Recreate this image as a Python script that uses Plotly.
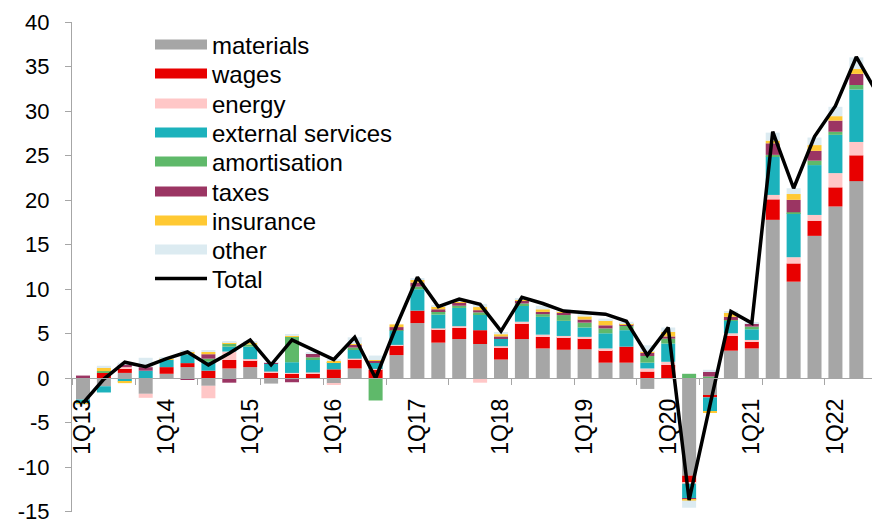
import plotly.graph_objects as go

# ---------------- data ----------------
quarters = ["1Q13", "2Q13", "3Q13", "4Q13", "1Q14", "2Q14", "3Q14", "4Q14",
            "1Q15", "2Q15", "3Q15", "4Q15", "1Q16", "2Q16", "3Q16", "4Q16",
            "1Q17", "2Q17", "3Q17", "4Q17", "1Q18", "2Q18", "3Q18", "4Q18",
            "1Q19", "2Q19", "3Q19", "4Q19", "1Q20", "2Q20", "3Q20", "4Q20",
            "1Q21", "2Q21", "3Q21", "4Q21", "1Q22", "2Q22", "3Q22"]
tick_labels = ["1Q13", "1Q14", "1Q15", "1Q16", "1Q17", "1Q18", "1Q19", "1Q20", "1Q21", "1Q22"]
y_ticks = [-15, -10, -5, 0, 5, 10, 15, 20, 25, 30, 35, 40]

materials = [-2.4, -0.9, 0.6, -1.75, 0.5, 1.25, -0.85, 1.1, 1.25, -0.6, -0.1, 0.0, -0.6, 1.1, 0.0, 2.6,
             6.2, 4.0, 4.4, 3.85, 2.1, 4.4, 3.35, 3.2, 3.25, 1.75, 1.75, -1.2, 0.0, -10.95, -1.95, 3.1,
             3.35, 17.8, 10.85, 16.0, 19.3, 22.15, None]
wages = [0.0, 0.6, 0.5, 0.0, 0.75, 0.45, 0.85, 0.95, 0.75, 0.65, 0.55, 0.5, 1.0, 1.0, 1.0, 1.1,
         1.4, 1.5, 1.25, 1.55, 1.3, 1.75, 1.3, 1.4, 1.2, 1.4, 1.8, 0.75, 1.5, -0.8, -0.2, 1.65,
         0.75, 2.3, 2.05, 1.7, 2.15, 2.9, None]
energy = [0.0, 0.0, 0.15, -0.45, 0.0, 0.0, -1.4, 0.95, 0.15, 0.1, 0.05, 0.15, -0.05, 0.1, 0.05, 0.05,
          0.0, 0.1, 0.2, -0.5, 0.2, 0.2, 0.25, 0.15, 0.2, 0.2, 0.0, 0.35, 0.35, -0.1, 0.0, 0.3,
          0.2, 0.5, 0.7, 0.65, 1.6, 1.5, None]
external_services = [-0.4, -0.7, -0.4, 0.85, 0.8, 1.0, 1.0, 0.55, 1.4, 0.9, 1.2, 1.4, 0.75, 1.05, 0.7, 1.6,
                     2.4, 1.55, 2.05, 1.8, 0.85, 1.85, 2.0, 1.7, 1.05, 1.7, 1.85, 0.65, 2.05, -1.65, -1.6, 1.4,
                     1.2, 4.3, 4.95, 5.6, 4.3, 5.9, None]
amortisation = [0.1, 0.2, 0.0, 0.0, 0.0, 0.0, 0.35, 0.35, 0.25, 0.0, 2.9, 0.3, 0.05, 0.2, -2.5, 0.05,
                0.3, 0.4, 0.25, 0.2, 0.05, 0.2, 0.3, 0.65, 0.55, 0.55, 0.5, 0.75, 0.55, 0.5, 0.2, 0.1,
                0.3, 0.2, 0.1, 0.5, 0.35, 0.5, None]
taxes = [0.2, 0.0, 0.3, 0.4, -0.05, -0.2, 0.5, -0.5, 0.0, 0.1, -0.35, 0.45, 0.0, 0.3, 0.2, 0.35,
         0.45, 0.2, 0.35, 0.25, 0.2, 0.3, 0.25, 0.25, 0.35, 0.35, 0.1, 0.35, 0.25, -0.1, 0.5, 0.35,
         0.35, 1.3, 1.4, 1.1, 1.25, 1.25, None]
insurance = [-0.1, 0.4, -0.15, 0.0, 0.2, 0.3, 0.25, 0.1, 0.25, 0.0, 0.15, 0.0, 0.15, 0.1, 0.1, 0.3,
             0.3, 0.35, 0.1, 0.35, 0.25, 0.2, 0.3, 0.1, 0.35, 0.55, 0.15, 0.1, 0.5, -0.15, -0.1, 0.45,
             0.0, 0.3, 0.65, 0.65, 0.5, 0.55, None]
other = [-0.1, 0.2, 0.2, 1.05, 0.05, 0.15, 0.15, 0.1, 0.1, 0.05, 0.05, 0.1, 0.2, 0.75, 0.5, 0.0,
         0.2, 0.1, 0.2, 0.35, 0.25, 0.1, 0.4, 0.3, 0.3, 0.2, 0.2, 0.75, 0.5, -0.8, 0.25, 0.1,
         0.1, 0.9, 0.65, 0.85, 1.05, 1.3, None]
total = [-2.8, -0.1, 1.8, 1.3, 2.2, 2.95, 1.5, 2.8, 4.3, 1.5, 4.3, 3.2, 2.1, 4.6, 0.0, 5.9,
         11.35, 8.05, 8.9, 8.3, 5.3, 9.1, 8.4, 7.55, 7.4, 7.2, 6.4, 2.6, 5.7, -13.7, -3.0, 7.5,
         6.2, 27.7, 21.35, 27.15, 30.6, 36.1, 32.0]

series_names = ["materials", "wages", "energy", "external services", "amortisation",
                "taxes", "insurance", "other"]
series_values = [materials, wages, energy, external_services, amortisation, taxes, insurance, other]
series_colors = ["#a6a6a6", "#e80000", "#ffc7c7", "#1cb2bc", "#5fb96a", "#9b3563", "#ffc933", "#dcebf1"]

# ---------------- figure ----------------
FONT = "Liberation Sans, Arial, sans-serif"
AXIS_GRAY = "#a6a6a6"
TOP, BOTTOM, PLOT_H = 22, 9, 490
x_idx = list(range(len(quarters)))

fig = go.Figure()
for name, vals, color in zip(series_names, series_values, series_colors):
    fig.add_trace(go.Bar(x=x_idx, y=vals, name=name, width=0.67,
                         marker=dict(color=color, line=dict(width=0)),
                         showlegend=False, hoverinfo="name+y"))

fig.add_trace(go.Scatter(x=x_idx, y=total, name="Total", mode="lines",
                         line=dict(color="black", width=3.5), legend="legend9"))

legend_keys = ["legend"] + [f"legend{i}" for i in range(2, 10)]
for name, color, key in zip(series_names, series_colors, legend_keys):
    fig.add_trace(go.Scatter(x=[None], y=[None], name=name, mode="lines",
                             line=dict(color=color, width=12), legend=key))

row_centers = [45, 74, 104, 133, 162, 192, 221, 250, 279]
legend_layout = {}
for key, cy in zip(legend_keys, row_centers):
    legend_layout[key] = dict(x=(155 - 72 - 5) / 800, xanchor="left",
                              y=1 - (cy - TOP) / PLOT_H, yanchor="middle",
                              bgcolor="rgba(0,0,0,0)", borderwidth=0, itemwidth=52,
                              font=dict(family=FONT, size=24, color="black"))

fig.update_layout(
    width=872, height=521,
    margin=dict(l=72, r=0, t=TOP, b=BOTTOM, autoexpand=False),
    paper_bgcolor="white", plot_bgcolor="white",
    barmode="relative", bargap=0.33,
    showlegend=True,
    **legend_layout,
    xaxis=dict(range=[-0.526, 37.75], anchor="free", position=15.03 / 55.06,
               automargin=False,
               showline=True, linecolor=AXIS_GRAY, linewidth=1.3,
               tickmode="array", tickvals=[quarters.index(t) for t in tick_labels],
               ticktext=tick_labels, tickangle=-90,
               ticks="outside", ticklen=10, tickcolor="rgba(0,0,0,0)",
               showgrid=False, zeroline=False,
               tickfont=dict(family=FONT, size=23, color="black"),
               minor=dict(tickmode="linear", tick0=-0.5, dtick=3, ticks="outside",
                          ticklen=6, tickcolor=AXIS_GRAY, tickwidth=1.3, showgrid=False)),
    yaxis=dict(range=[-15.03, 40.03], tickmode="array", tickvals=y_ticks,
               ticktext=[str(v) for v in y_ticks], automargin=False,
               showline=True, linecolor=AXIS_GRAY, linewidth=1.3,
               ticks="outside", ticklen=6, tickcolor=AXIS_GRAY, tickwidth=1.3,
               ticklabelstandoff=11, ticklabeloverflow="allow",
               showgrid=False, zeroline=False,
               tickfont=dict(family=FONT, size=22, color="black")),
)

fig.write_html("out.html")
